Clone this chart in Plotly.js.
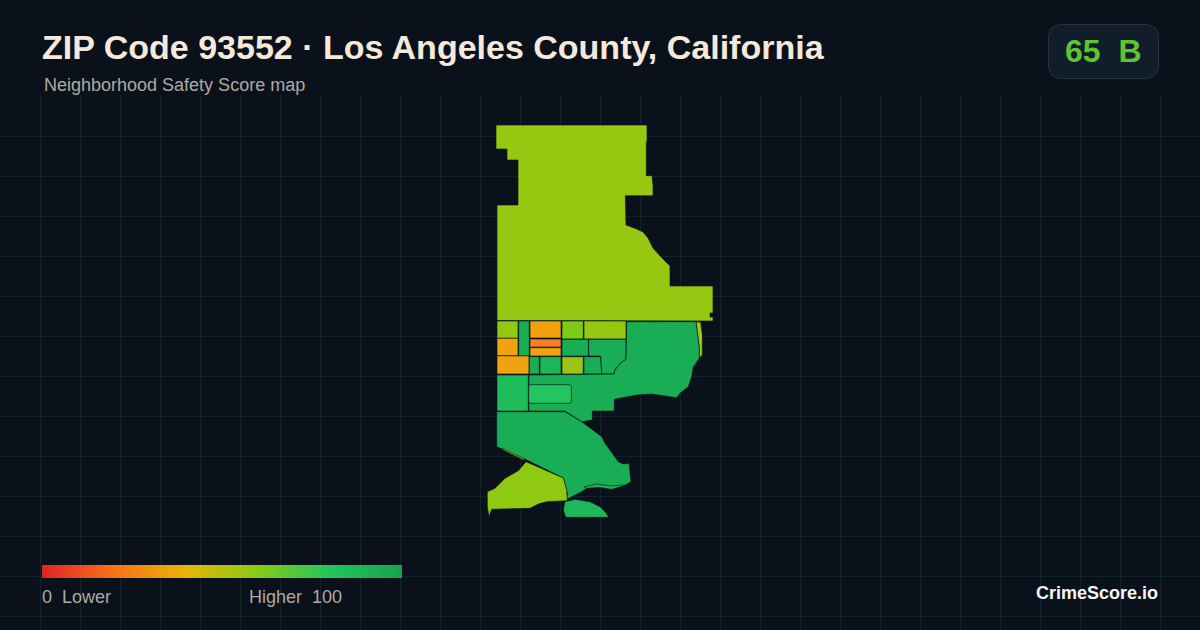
<!DOCTYPE html>
<html><head><meta charset="utf-8">
<script src="https://cdn.plot.ly/plotly-3.0.1.min.js"></script>
<style>html,body{margin:0;padding:0;background:#0a111b;overflow:hidden}#c{width:1200px;height:630px}</style>
</head><body><div id="c"></div>
<script>
// Map outlines, in map units
const north=[[496,125],[647,125],[647,142],[646.3,142],[646.3,175.7],[652,175.7],[653,186],[653,195.7],[625.3,195.7],[625.3,210],[626,210],[626,225],[636.7,229],[643,232],[648,238],[653,248],[661.7,257.7],[670,266],[670,286],[713,286],[713,313],[710,313],[710,317],[713,317],[713,321],[497,320.5],[497,205],[518,205],[518,160],[507,160],[507,149],[496,149]];
const cellA=[[497,321],[518,321],[518,338.3],[497,338.3]];
const cellB=[[518.7,321],[529.3,321],[529.3,356],[518.7,356]];
const cellC=[[530,321],[561,321],[561,338],[530,338]];
const cellD=[[530,339],[561,339],[561,347],[530,347]];
const cellE=[[530,347.7],[561,347.7],[561,356],[530,356]];
const cellF=[[497,338.3],[518,338.3],[518,355.7],[497,355.7]];
const cellG=[[497,355.7],[529,356],[529,374],[497,374]];
const cellH=[[529.3,356.7],[539.3,356.7],[539.3,374],[529.3,374]];
const cellI=[[540,356.7],[561,356.7],[561,374],[540,374]];
const cellJ=[[562,356.7],[583.3,356.7],[583.3,374],[562,374]];
const cellK=[[584,356.7],[600.7,356.7],[601.7,374],[584,374]];
const cellL=[[562,321],[583.3,321],[583.3,339],[562,339]];
const cellM=[[584,321],[626,321],[626,339],[584,339]];
const cellN=[[562,339.3],[588.3,339.3],[588.3,356],[562,356]];
const cellO=[[588.7,339.3],[626,339.3],[626,359.3],[620,363.3],[615,370],[614.3,374],[601.7,374],[600.7,356],[588.7,356]];
const east=[[626.7,321.7],[696,321.7],[699.3,348.3],[699.3,358.3],[693.3,366.7],[691.7,376.7],[688.3,386.7],[680,393.3],[676.7,397.7],[660,395],[651.7,394],[636.7,395],[614.3,399.3],[614.3,411],[592.3,411],[592.3,420],[581.7,421.7],[565,411],[529,411],[529,375],[614.3,374],[615,370],[620,363.3],[626,359.3]];
const sliverUpper=[[696,321.7],[700.7,322.3],[702.3,335],[702.3,355],[699.3,358.3],[699.3,348.3]];
const sliverLower=[[697.3,361.7],[694.3,367.7],[695,364.3]];
const west=[[497,375],[528.3,375],[528.3,411],[497,411]];
const inner=[[530,384.7],[570,384.7],[571.3,386],[571.3,402],[570,403.3],[530,403.3],[528.7,402],[528.7,386]];
const south=[[496.7,411.7],[565,411.7],[581.7,421.7],[596.7,433.3],[601.7,436.7],[605,443.3],[613.3,455],[618.3,461.7],[623.3,464],[629,463.3],[631,481.7],[623.3,486],[611.7,489.3],[598.3,487.3],[586.7,488.3],[581.7,491.7],[566.7,499.3],[567.3,493.3],[563.3,478],[555,474],[523.3,458.3],[496.7,446.7]];
const lagoon=[[584.3,486.7],[596.7,484],[611.7,486],[623.3,485],[623.3,486],[611.7,489.3],[598.3,487.3],[586.7,488.3]];
const shore=[[502.7,448.3],[523.3,458.3],[525,460.7],[502.7,449.8]];
const lobe=[[526,461.7],[563.3,478],[566.7,490],[567.3,500.7],[546.7,501.7],[538.3,504],[530,508.3],[491.7,509.3],[489,516.7],[487.3,506.7],[487.3,491.7],[495,488.3],[505,478.3],[518.3,470.7]];
const tip=[[565,501.7],[575,499.3],[590,501.7],[600,506.7],[605,511.7],[609,517.3],[565.7,517.3],[563.3,510]];

// Fill colours
const yellowGreen='#97c811', limeGreen='#7ccb14', amber='#f0a30f', deepOrange='#f97f2a',
      midGreen='#19ae55', brightGreen='#22c55e', westGreen='#20bd5c';

const regions=[
 [north,yellowGreen],[cellA,'#90c813'],[cellB,midGreen],[cellC,amber],[cellD,deepOrange],[cellE,amber],
 [cellF,amber],[cellG,amber],[cellH,midGreen],[cellI,'#1cb558'],[cellJ,'#9cc414'],[cellK,midGreen],
 [cellL,limeGreen],[cellM,yellowGreen],[cellN,midGreen],[cellO,midGreen],[sliverUpper,'#a6c812'],[sliverLower,'#a6c812'],[east,midGreen],
 [west,westGreen],[inner,brightGreen],[south,midGreen],[lagoon,'#1cb558'],[shore,yellowGreen],[lobe,'#8fc912'],[tip,'#1eb85a']
];

// Legend ramp
const rampValues=[0,20,40,60,80,100];
const rampRows=[0,1];
const rampColors=['#dc2626','#f97316','#eab308','#84cc16','#22c55e','#16a34a'];

// Text
const titleText='ZIP Code 93552 · Los Angeles County, California';
const subtitleText='Neighborhood Safety Score map';
const scoreText='65\u00a0\u00a0B';
const legendLow='0\u00a0\u00a0Lower';
const legendHigh='Higher\u00a0\u00a0100';
const brandText='CrimeScore.io';

const W=1200,H=630,py=y=>1-y/H,px=x=>x/W;
const traces=regions.map(([pts,col])=>({
  type:'scatter',mode:'lines',x:[...pts.map(p=>p[0]),pts[0][0]],y:[...pts.map(p=>p[1]),pts[0][1]],
  fill:'toself',fillcolor:col,line:{color:'rgba(10,24,28,0.8)',width:0.8},hoverinfo:'skip',showlegend:false
}));
traces.push({type:'heatmap',xaxis:'x2',yaxis:'y2',x:rampValues,y:rampRows,z:rampRows.map(()=>rampValues),
  zmin:0,zmax:100,zsmooth:'best',showscale:false,hoverinfo:'skip',
  colorscale:rampValues.map((v,i)=>[v/100,rampColors[i]])});

const txt=(text,x,y,size,color,anchor,bold)=>({text:bold?'<b>'+text+'</b>':text,xref:'paper',yref:'paper',x:px(x),y:py(y),
  xanchor:anchor,yanchor:'middle',showarrow:false,font:{family:'"Liberation Sans",Arial,sans-serif',size,color}});

const layout={
  width:W,height:H,margin:{l:0,r:0,t:0,b:0},paper_bgcolor:'#0a111b',plot_bgcolor:'#0a111b',showlegend:false,
  xaxis:{domain:[0,1],range:[0,1200],tick0:0,dtick:40,showgrid:true,gridcolor:'#12232c',gridwidth:1,zeroline:false,showticklabels:false,ticks:'',showline:false,fixedrange:true},
  yaxis:{domain:[0,535/630],range:[630,95],tick0:96,dtick:40,showgrid:true,gridcolor:'#12232c',gridwidth:1,zeroline:false,showticklabels:false,ticks:'',showline:false,fixedrange:true},
  xaxis2:{domain:[px(42),px(402)],range:[0,100],visible:false,anchor:'y2',fixedrange:true},
  yaxis2:{domain:[py(578),py(565)],range:[0,1],visible:false,anchor:'x2',fixedrange:true},
  shapes:[{type:'path',xref:'paper',yref:'paper',
    path:`M ${px(1062)} ${py(24.5)} L ${px(1145)} ${py(24.5)} Q ${px(1158.5)} ${py(24.5)} ${px(1158.5)} ${py(38)} L ${px(1158.5)} ${py(65)} Q ${px(1158.5)} ${py(78.5)} ${px(1145)} ${py(78.5)} L ${px(1062)} ${py(78.5)} Q ${px(1048.5)} ${py(78.5)} ${px(1048.5)} ${py(65)} L ${px(1048.5)} ${py(38)} Q ${px(1048.5)} ${py(24.5)} ${px(1062)} ${py(24.5)} Z`,
    fillcolor:'#111d2a',line:{color:'#26333f',width:1},layer:'above'}],
  annotations:[
    txt(titleText,40,47,34,'#f5e9da','left',true),
    txt(subtitleText,42,85,18,'#b0aa9e','left',false),
    txt(scoreText,1103,51,32,'#5ec42f','center',true),
    txt(legendLow,40,597,18,'#b0aa9e','left',false),
    txt(legendHigh,247,597,18,'#b0aa9e','left',false),
    txt(brandText,1160,593,18,'#f6f6f6','right',true)
  ]
};
Plotly.newPlot('c',traces,layout,{displayModeBar:false,staticPlot:true});
</script></body></html>
